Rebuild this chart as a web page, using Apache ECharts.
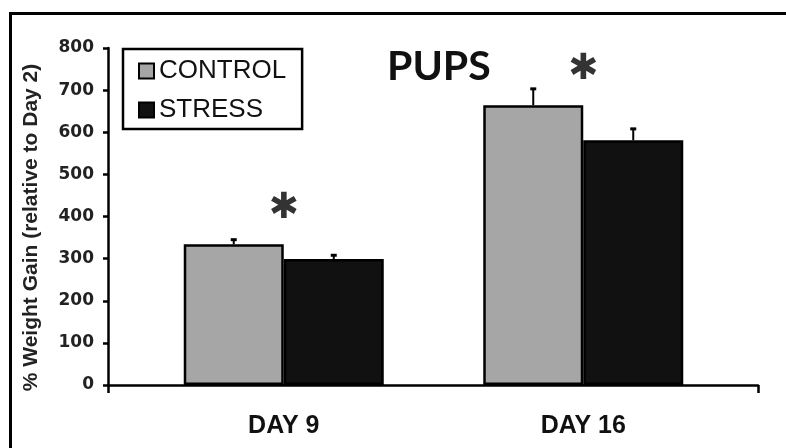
<!DOCTYPE html>
<html>
<head>
<meta charset="utf-8">
<script src="https://cdn.jsdelivr.net/npm/echarts@6/dist/echarts.min.js"></script>
<style>
html,body{margin:0;padding:0;background:#fff;}
#chart{width:786px;height:448px;}
</style>
</head>
<body>
<div id="chart"></div>
<script>
// ---- data ----
const categories = ['DAY 9', 'DAY 16'];
const seriesNames = ['CONTROL', 'STRESS'];
const controlMean = [334, 664];
const controlErr = [11, 39];
const stressMean = [299, 581];
const stressErr = [9, 27];
const starValues = [422, 750];
const yTicks = { min: 0, max: 800, interval: 100 };
const titleText = 'PUPS';
const yAxisName = '% Weight Gain (relative to Day 2)';

const BAR_W = 100;

function errSeries(means, errs, dx) {
  return {
    type: 'custom',
    name: 'err',
    xAxisIndex: 0, yAxisIndex: 0,
    z: 5,
    silent: true,
    data: means.map((m, i) => [i, m, errs[i]]),
    renderItem: function (params, api) {
      const p0 = api.coord([api.value(0), api.value(1)]);
      const p1 = api.coord([api.value(0), api.value(1) + api.value(2)]);
      const x = p0[0] + dx;
      return {
        type: 'group',
        children: [
          { type: 'line', shape: { x1: x, y1: p0[1], x2: x, y2: p1[1] },
            style: { stroke: '#000', lineWidth: 2 } },
          { type: 'line', shape: { x1: x - 3, y1: p1[1], x2: x + 3, y2: p1[1] },
            style: { stroke: '#000', lineWidth: 3 } }
        ]
      };
    }
  };
}

const chart = echarts.init(document.getElementById('chart'), null, { renderer: 'canvas' });
chart.setOption({
  animation: false,
  backgroundColor: '#fff',
  title: {
    text: titleText,
    left: 382, top: 41,
    textStyle: { fontFamily: 'Lato', fontWeight: 'bold', fontSize: 41, color: '#111' }
  },
  legend: {
    data: seriesNames,
    orient: 'vertical',
    left: 123, top: 49,
    itemWidth: 15, itemHeight: 15, itemGap: 13,
    itemTextGap: 7,
    icon: 'rect',
    padding: [9, 16, 6, 15],
    borderColor: '#000', borderWidth: 2.5,
    backgroundColor: '#fff',
    textStyle: { fontFamily: 'Liberation Sans', fontSize: 26, color: '#111' },
    itemStyle: { borderWidth: 2 }
  },
  graphic: [{
    type: 'rect', silent: true, z: -1,
    shape: { x: 10.5, y: 13.5, width: 1000, height: 1000 },
    style: { fill: 'none', stroke: '#000', lineWidth: 3 }
  }],
  grid: [
    { left: 134, right: 53, top: 48, bottom: 63 },
    { left: 108, right: 28, top: 48, bottom: 63 }
  ],
  xAxis: [
    {
      type: 'category', gridIndex: 0, data: categories,
      axisLine: { show: false }, axisTick: { show: false },
      axisLabel: { fontFamily: 'Liberation Sans', fontWeight: 'bold', fontSize: 25, color: '#111', margin: 29 },
      splitLine: { show: false }
    },
    {
      type: 'value', gridIndex: 1, min: 0, max: 1, interval: 1,
      axisLine: { show: true, lineStyle: { color: '#000', width: 2.5 } },
      axisTick: { show: true, length: 8, lineStyle: { color: '#000', width: 2.5 } },
      axisLabel: { show: false }, splitLine: { show: false }
    }
  ],
  yAxis: [
    {
      type: 'value', gridIndex: 0,
      min: yTicks.min, max: yTicks.max, interval: yTicks.interval,
      offset: 26,
      axisLine: { show: true, lineStyle: { color: '#000', width: 2.5 } },
      axisTick: { show: true, length: 5, lineStyle: { color: '#000', width: 2.5 } },
      axisLabel: { fontFamily: 'DejaVu Sans', fontWeight: 'bold', fontSize: 17, color: '#222', margin: 14 },
      splitLine: { show: false },
      name: yAxisName,
      nameLocation: 'middle', nameGap: 66,
      nameTextStyle: { fontFamily: 'Liberation Sans', fontWeight: 'bold', fontSize: 21, color: '#222', padding: [0, 22, 0, 0] }
    },
    { type: 'value', gridIndex: 1, min: 0, max: 1, show: false }
  ],
  series: [
    {
      name: seriesNames[0], type: 'bar', xAxisIndex: 0, yAxisIndex: 0,
      data: controlMean, barWidth: BAR_W, barGap: '0%',
      itemStyle: { color: '#a6a6a6', borderColor: '#000', borderWidth: 2.5 }
    },
    {
      name: seriesNames[1], type: 'bar', xAxisIndex: 0, yAxisIndex: 0,
      data: stressMean, barWidth: BAR_W, barGap: '0%',
      itemStyle: { color: '#111', borderColor: '#000', borderWidth: 2.5 }
    },
    errSeries(controlMean, controlErr, -BAR_W / 2),
    errSeries(stressMean, stressErr, BAR_W / 2),
    {
      type: 'scatter', name: 'sig', xAxisIndex: 0, yAxisIndex: 0,
      data: starValues.map((v, i) => [i, v]),
      symbolSize: 1, itemStyle: { color: 'rgba(0,0,0,0)' },
      silent: true,
      label: {
        show: true, position: 'inside', formatter: '\u2731', offset: [0, 1],
        fontFamily: 'DejaVu Sans', fontWeight: 'normal', fontSize: 36, color: '#000'
      }
    }
  ]
});
</script>
</body>
</html>
